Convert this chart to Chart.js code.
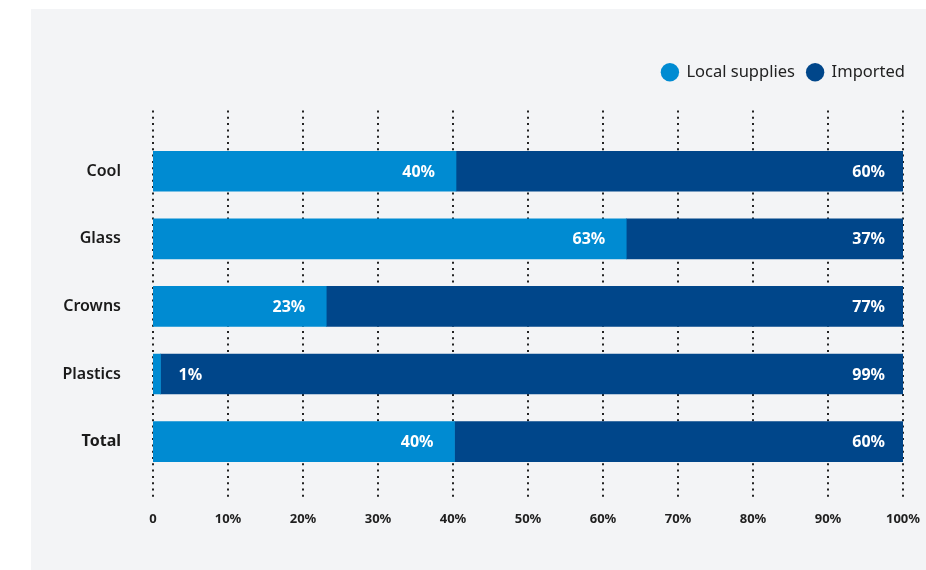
<!DOCTYPE html>
<html>
<head>
<meta charset="utf-8">
<script src="https://cdn.jsdelivr.net/npm/chart.js@4.4.1/dist/chart.umd.min.js"></script>
<style>
  html, body { margin: 0; padding: 0; background: #ffffff; }
  #wrap { position: relative; width: 926px; height: 570px; }
  #panel { position: absolute; left: 31px; top: 9px; right: 0; bottom: 0; background: #f3f4f6; }
  #chart { position: absolute; left: 0; top: 0; }
</style>
</head>
<body>
<div id="wrap">
  <div id="panel"></div>
  <canvas id="chart" width="926" height="570"></canvas>
</div>
<script>
// Chart data
const categories = ['Cool', 'Glass', 'Crowns', 'Plastics', 'Total'];
const seriesNames = ['Local supplies', 'Imported'];
const localValues = [40.4, 63.1, 23.1, 1.0, 40.2];
const importedValues = [59.6, 36.9, 76.9, 99.0, 59.8];
const tickLabels = ['0', '10%', '20%', '30%', '40%', '50%', '60%', '70%', '80%', '90%', '100%'];

const FONT = "'Noto Sans', 'Open Sans', sans-serif";
const LIGHT_BLUE = '#008bd2';
const DARK_BLUE = '#00468a';

// Adds some room below the legend
const legendSpacer = {
  id: 'legendSpacer',
  beforeInit(chart) {
    const fit = chart.legend.fit;
    chart.legend.fit = function() {
      fit.bind(chart.legend)();
      this.height += 47;
    };
  }
};

// Dotted vertical grid lines, running a bit past the bars
const dottedGrid = {
  id: 'dottedGrid',
  beforeDatasetsDraw(chart) {
    const { ctx, chartArea, scales } = chart;
    const x = scales.x;
    ctx.save();
    ctx.strokeStyle = '#222222';
    ctx.lineWidth = 2;
    ctx.setLineDash([2, 4.3]);
    x.ticks.forEach(tick => {
      const px = Math.round(x.getPixelForValue(tick.value));
      ctx.beginPath();
      ctx.moveTo(px, chartArea.top - 27);
      ctx.lineTo(px, chartArea.bottom + 23);
      ctx.stroke();
    });
    ctx.restore();
  }
};

// Percent labels inside the bars
const barLabels = {
  id: 'barLabels',
  afterDatasetsDraw(chart) {
    const { ctx } = chart;
    ctx.save();
    ctx.font = 'bold 16px ' + FONT;
    ctx.fillStyle = '#ffffff';
    ctx.textBaseline = 'middle';
    chart.data.datasets.forEach((dataset, di) => {
      const meta = chart.getDatasetMeta(di);
      meta.data.forEach((bar, i) => {
        const text = Math.round(dataset.data[i]) + '%';
        const width = Math.abs(bar.x - bar.base);
        if (width < 40) {
          // too narrow, put the label just past the segment
          ctx.textAlign = 'left';
          ctx.fillText(text, bar.x + 18, bar.y + 1);
        } else {
          ctx.textAlign = 'right';
          ctx.fillText(text, bar.x - (di === 0 ? 21 : 18), bar.y + 1);
        }
      });
    });
    ctx.restore();
  }
};

const ctx = document.getElementById('chart').getContext('2d');
const chart = new Chart(ctx, {
  type: 'bar',
  data: {
    labels: categories,
    datasets: [{
      label: seriesNames[0],
      data: localValues,
      backgroundColor: LIGHT_BLUE,
      borderWidth: 0
    }, {
      label: seriesNames[1],
      data: importedValues,
      backgroundColor: DARK_BLUE,
      borderWidth: 0
    }]
  },
  options: {
    indexAxis: 'y',
    responsive: false,
    animation: false,
    layout: {
      padding: { top: 52, right: 9, bottom: 7, left: 0 }
    },
    datasets: {
      bar: {
        barThickness: 40
      }
    },
    scales: {
      x: {
        stacked: true,
        min: 0,
        max: 100,
        grid: { display: false, drawTicks: false },
        border: { display: false },
        ticks: {
          stepSize: 10,
          padding: 36,
          color: '#1f1f1f',
          font: { family: FONT, size: 13, weight: 'bold' },
          callback: (value, index) => tickLabels[index]
        },
        afterFit(scale) {
          scale.paddingRight = 23;
        }
      },
      y: {
        stacked: true,
        grid: { display: false, drawTicks: false },
        border: { display: false },
        ticks: {
          padding: 32,
          color: '#1a1a1a',
          font: (c) => ({ family: FONT, size: 16, weight: c.index === 4 ? 'bold' : '600' })
        },
        afterFit(scale) {
          scale.width = 153;
        }
      }
    },
    plugins: {
      legend: {
        position: 'top',
        align: 'end',
        labels: {
          usePointStyle: true,
          pointStyle: 'circle',
          boxHeight: 13,
          padding: 12,
          color: '#222222',
          font: { family: FONT, size: 16.5 }
        }
      },
      tooltip: { enabled: false }
    }
  },
  plugins: [legendSpacer, dottedGrid, barLabels]
});
</script>
</body>
</html>
